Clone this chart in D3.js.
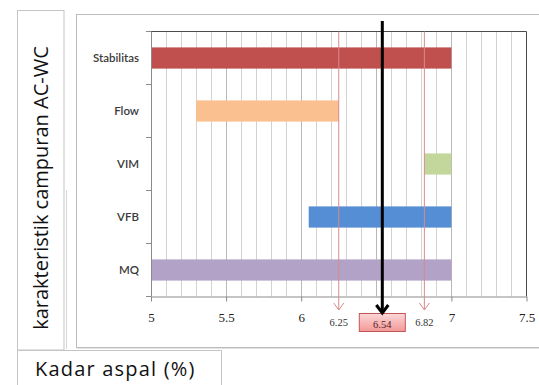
<!DOCTYPE html>
<html>
<head>
<meta charset="utf-8">
<script src="https://cdn.jsdelivr.net/npm/d3@7/dist/d3.min.js"></script>
<style>
  html, body { margin: 0; padding: 0; background: #fff; }
  svg { display: block; }
</style>
</head>
<body>
<svg id="chart" width="539" height="385"></svg>
<script>
// Asphalt content ranges meeting each mix criterion
const categories = ["Stabilitas", "Flow", "VIM", "VFB", "MQ"];
const rangeStart = [5, 5.3, 6.82, 6.05, 5];
const rangeEnd   = [7, 6.25, 7, 7, 7];
const barColors  = ["#c0504d", "#fac090", "#c3d69b", "#558ed5", "#b3a2c7"];
const xTicks     = [5, 5.5, 6, 7, 7.5];
const boundValues = [6.25, 6.82];   // lower / upper limits of the common range
const optimumValue = 6.54;          // optimum asphalt content

const svg = d3.select("#chart");

// ---- table-like frames around the chart ----
const frame = svg.append("g");
// y-label cell
frame.append("rect").attr("x", 17.5).attr("y", 10.5).attr("width", 46.5).attr("height", 339.5)
  .attr("fill", "none").attr("stroke", "#c4c4c4");
frame.append("line").attr("x1", 66.5).attr("x2", 66.5).attr("y1", 190).attr("y2", 349)
  .attr("stroke", "#d6d6d6");
// chart area
frame.append("rect").attr("x", 76.5).attr("y", 14.5).attr("width", 470).attr("height", 333)
  .attr("fill", "#fff").attr("stroke", "#bdbdbd");
frame.append("line").attr("x1", 77).attr("x2", 539).attr("y1", 348.5).attr("y2", 348.5)
  .attr("stroke", "#e2e2e2");
// x-label cell
frame.append("path").attr("d", "M17.5,390 V350.5 H221.5 V390")
  .attr("fill", "none").attr("stroke", "#c4c4c4");

frame.append("text")
  .attr("transform", "translate(48,188) rotate(-90)")
  .attr("text-anchor", "middle")
  .attr("font-family", "Open Sans")
  .attr("font-size", 20)
  .attr("fill", "#111")
  .text("karakteristik campuran AC-WC");

frame.append("text")
  .attr("x", 35).attr("y", 376)
  .attr("font-family", "Open Sans")
  .attr("font-size", 20)
  .attr("letter-spacing", 1.2)
  .attr("fill", "#111")
  .text("Kadar aspal (%)");

// ---- plot ----
const pLeft = 151, pRight = 526.5, pTop = 31.5, pBottom = 296.5;
const x = d3.scaleLinear().domain([5, 7.5]).range([pLeft, pRight]);
const y = d3.scaleBand().domain(categories).range([pTop, pBottom])
  .paddingInner(0.6).paddingOuter(0.3);

const plot = svg.append("g");

// vertical gridlines every 0.1
const gridVals = d3.range(51, 75).map(v => v / 10);
plot.append("g").selectAll("line").data(gridVals).join("line")
  .attr("x1", d => Math.round(x(d)) + 0.5).attr("x2", d => Math.round(x(d)) + 0.5)
  .attr("y1", pTop).attr("y2", pBottom)
  .attr("stroke", d => (Math.abs(d * 2 - Math.round(d * 2)) < 1e-6) ? "#b8b8b8" : "#d2d2d2")
  .attr("stroke-width", 1);

// bars
plot.append("g").selectAll("rect").data(categories).join("rect")
  .attr("x", (d, i) => x(rangeStart[i]))
  .attr("width", (d, i) => x(rangeEnd[i]) - x(rangeStart[i]))
  .attr("y", d => y(d))
  .attr("height", y.bandwidth())
  .attr("fill", (d, i) => barColors[i]);

// plot border: top and right
plot.append("path")
  .attr("d", `M${pLeft},${pTop} H${pRight} V${pBottom}`)
  .attr("fill", "none").attr("stroke", "#4a4a4a").attr("stroke-width", 1);

// x axis
const xAxis = d3.axisBottom(x).tickValues(xTicks).tickSize(5).tickSizeOuter(0)
  .tickFormat(d3.format("~g"));
const gx = plot.append("g").attr("transform", `translate(0,${pBottom})`).call(xAxis);
gx.select(".domain").attr("stroke", "#8a8a8a");
gx.selectAll(".tick line").attr("stroke", "#8a8a8a");
gx.selectAll(".tick text")
  .attr("font-family", "Liberation Serif")
  .attr("font-size", 13)
  .attr("fill", "#222")
  .attr("dy", "1.35em");

// y axis
const yEdges = d3.range(categories.length + 1).map(i => pTop + i * y.step());
const gy = plot.append("g");
gy.append("line").attr("x1", pLeft + 0.5).attr("x2", pLeft + 0.5).attr("y1", pTop).attr("y2", pBottom)
  .attr("stroke", "#8a8a8a");
gy.selectAll(".edge").data(yEdges).join("line").attr("class", "edge")
  .attr("x1", pLeft - 5).attr("x2", pLeft).attr("y1", d => d).attr("y2", d => d)
  .attr("stroke", "#8a8a8a");
gy.selectAll("text").data(categories).join("text")
  .attr("x", pLeft - 12)
  .attr("y", d => y(d) + y.bandwidth() / 2)
  .attr("dy", "0.35em")
  .attr("text-anchor", "end")
  .attr("font-family", "Lato")
  .attr("font-size", 11.5)
  .attr("font-weight", 600)
  .attr("fill", "#3a3a3a")
  .text(d => d);

// ---- limit lines with open arrowheads ----
const marks = svg.append("g");
boundValues.forEach(v => {
  const px = x(v);
  marks.append("line").attr("x1", px).attr("x2", px).attr("y1", pTop).attr("y2", 310)
    .attr("stroke", "#d98a8a").attr("stroke-width", 1);
  marks.append("path").attr("d", `M${px - 5},${303} L${px},${310} L${px + 5},${303}`)
    .attr("fill", "none").attr("stroke", "#d98a8a").attr("stroke-width", 1);
  marks.append("text").attr("x", px).attr("y", 322).attr("dy", "0.35em")
    .attr("text-anchor", "middle")
    .attr("font-family", "Liberation Serif").attr("font-size", 10.5)
    .attr("fill", "#333").text(d3.format(".2f")(v));
});

// optimum value box
const grad = svg.append("defs").append("linearGradient").attr("id", "pinkFill")
  .attr("x1", 0).attr("x2", 0).attr("y1", 0).attr("y2", 1);
grad.append("stop").attr("offset", "0%").attr("stop-color", "#fcd8d8");
grad.append("stop").attr("offset", "100%").attr("stop-color", "#f39797");
const ox = x(optimumValue);
marks.append("rect").attr("x", ox - 23).attr("y", 313.5).attr("width", 46).attr("height", 18)
  .attr("fill", "url(#pinkFill)").attr("stroke", "#c05656").attr("stroke-width", 1);
marks.append("text").attr("x", ox).attr("y", 324).attr("dy", "0.35em")
  .attr("text-anchor", "middle")
  .attr("font-family", "Liberation Serif").attr("font-size", 10.5)
  .attr("fill", "#5a2020").text(d3.format(".2f")(optimumValue));

// optimum line with heavy arrowhead
marks.append("line").attr("x1", ox).attr("x2", ox).attr("y1", 21).attr("y2", 313)
  .attr("stroke", "#000").attr("stroke-width", 3);
marks.append("path").attr("d", `M${ox - 6},${305} L${ox},${313} L${ox + 6},${305}`)
  .attr("fill", "none").attr("stroke", "#000").attr("stroke-width", 3)
  .attr("stroke-linejoin", "miter");
</script>
</body>
</html>
